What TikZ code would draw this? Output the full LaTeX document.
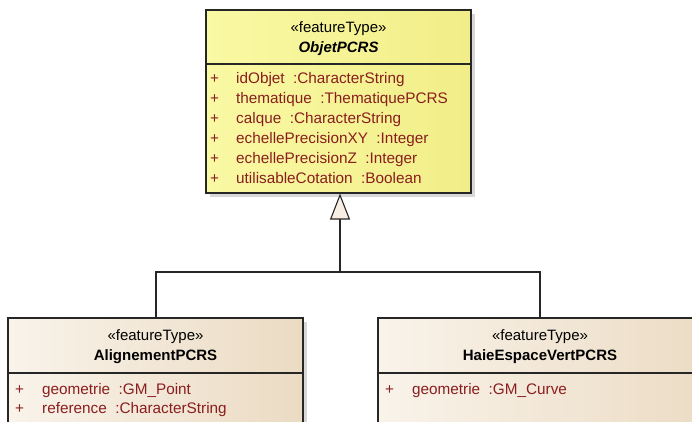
\documentclass[tikz,border=0pt]{standalone}
\usepackage{fontspec}
\setmainfont{Liberation Sans}
\usetikzlibrary{arrows.meta}
\definecolor{attrred}{HTML}{8A1E1E}
\definecolor{yelL}{HTML}{FAF9A4}
\definecolor{yelR}{HTML}{F1EE88}
\definecolor{begL}{HTML}{F9F3EA}
\definecolor{begR}{HTML}{EBDBC3}
\definecolor{trifill}{HTML}{F8EEE4}
\tikzset{
  boxline/.style={draw=black!85, line width=1.1pt},
  shadowbox/.style={fill=black!30, opacity=0.5, draw=none},
  stereo/.style={font=\fontsize{15}{17}\selectfont, inner sep=0pt, anchor=base},
  cname/.style={font=\fontsize{15}{17}\selectfont\bfseries, inner sep=0pt, anchor=base},
  attr/.style={font=\fontsize{15.3}{17}\selectfont, text=attrred, inner sep=0pt, anchor=base west},
  conn/.style={draw=black!85, line width=1.1pt},
}
\begin{document}
\begin{tikzpicture}[x=1pt,y=-1pt]
\useasboundingbox (0,0) rectangle (692,421);
\fill[white] (0,0) rectangle (692,421);
\begin{scope}
\clip (0,0) rectangle (692,421);
% shadows
\fill[shadowbox] (210,14) rectangle (475,197);
\fill[shadowbox] (12,322) rectangle (307,440);
\fill[shadowbox] (382,322) rectangle (730,440);
% top box
\shade[left color=yelL, right color=yelR] (206,10) rectangle (471,193);
\node[boxline, minimum width=265pt, minimum height=183pt, inner sep=0pt] (objet) at (338.5,101.5) {};
\draw[boxline] (206,64) -- (471,64);
% left box
\shade[left color=begL, right color=begR] (8,318) rectangle (303,440);
\node[boxline, minimum width=295pt, minimum height=122pt, inner sep=0pt] (alig) at (155.5,379) {};
\draw[boxline] (8,373) -- (303,373);
% right box
\shade[left color=begL, right color=begR] (378,318) rectangle (720,440);
\node[boxline, minimum width=342pt, minimum height=122pt, inner sep=0pt] (haie) at (549,379) {};
\draw[boxline] (378,373) -- (720,373);
\end{scope}
% texts top
\node[stereo] (s1) at (338.5,32) {«featureType»};
\node[cname, font=\fontsize{15}{17}\selectfont\bfseries\itshape] (n1) at (338.5,52) {ObjetPCRS};
\node[attr] (p1) at (210,83) {+};
\node[attr] (a1) at (236,83) {idObjet\ \ :CharacterString};
\node[attr] (p2) at (210,103) {+};
\node[attr] (a2) at (236,103) {thematique\ \ :ThematiquePCRS};
\node[attr] (p3) at (210,123) {+};
\node[attr] (a3) at (236,123) {calque\ \ :CharacterString};
\node[attr] (p4) at (210,143) {+};
\node[attr] (a4) at (236,143) {echellePrecisionXY\ \ :Integer};
\node[attr] (p5) at (210,163) {+};
\node[attr] (a5) at (236,163) {echellePrecisionZ\ \ :Integer};
\node[attr] (p6) at (210,183) {+};
\node[attr] (a6) at (236,183) {utilisableCotation\ \ :Boolean};
% texts left
\node[stereo] (s2) at (155.5,340) {«featureType»};
\node[cname] (n2) at (155.5,360) {AlignementPCRS};
\node[attr] (q1) at (15,394) {+};
\node[attr] (b1) at (42,394) {geometrie\ \ :GM\_Point};
\node[attr] (q2) at (15,413) {+};
\node[attr] (b2) at (42,413) {reference\ \ :CharacterString};
% texts right
\node[stereo] (s3) at (540,340) {«featureType»};
\node[cname] (n3) at (540,360) {HaieEspaceVertPCRS};
\node[attr] (r1) at (385,394) {+};
\node[attr] (c1) at (412,394) {geometrie\ \ :GM\_Curve};
% connectors
\coordinate (jn) at (340,272);
\coordinate (jl) at (156,272);
\coordinate (jr) at (540,272);
\draw[conn] (alig.north -| jl) -- (jl) -- (jr) -- (haie.north -| jr);
\draw[conn, -{Triangle[open, length=26pt, width=20pt, fill=trifill, line width=1.1pt]}] (jn) -- (objet.south -| jn);
\end{tikzpicture}
\end{document}
